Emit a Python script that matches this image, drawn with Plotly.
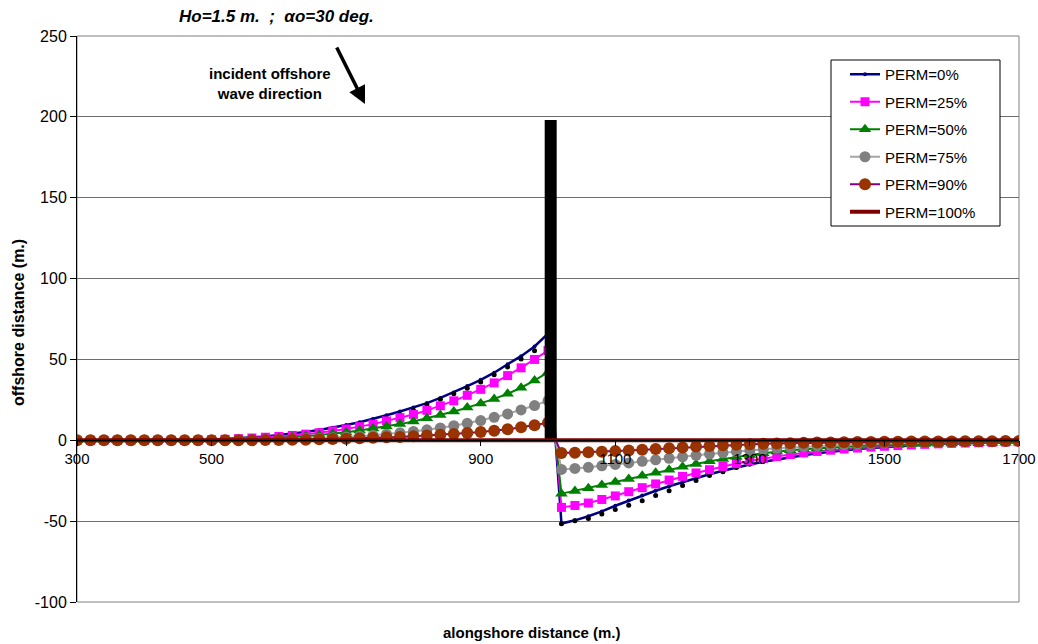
import plotly.graph_objects as go

# alongshore positions (m), every 20 m
x_pos = list(range(300, 1701, 20))

# offshore shoreline displacement (m) for each permeability
perm0_line = [0, 0, 0, 0, 0, 0, 0, 0, 0.1, 0.2, 0.4, 0.8, 1.2, 1.7, 2.4, 3.2, 4.1, 5.2, 6.4, 7.8,
              9.4, 11.2, 13.2, 15.5, 17.8, 20.3, 23.0, 26.2, 29.6, 33.5, 37.4, 41.8, 47.0, 52.0, 58.0, 66.0,
              -51.5, -49.5, -47.0, -44.0, -40.5, -37.3, -34.2, -31.2, -28.4, -25.8, -23.3, -21.0, -18.8, -16.8,
              -15.0, -13.3, -11.8, -10.4, -9.2, -8.1, -7.1, -6.2, -5.4, -4.7, -4.1, -3.6, -3.1, -2.7, -2.3,
              -2.0, -1.7, -1.5, -1.3, -1.1, -1.0]
perm0_dots = [0, 0, 0, 0, 0, 0, 0, 0, 0, 0.1, 0.3, 0.6, 1.0, 1.4, 2.0, 2.6, 3.4, 4.3, 5.4, 6.6,
              8.0, 9.6, 11.4, 13.4, 15.6, 18.6, 22.0, 25.3, 28.7, 32.2, 36.0, 40.5, 45.3, 50.3, 55.3, 61.0,
              -51.6, -49.8, -48.3, -45.6, -42.8, -40.2, -37.4, -34.2, -31.2, -28.0, -24.8, -21.8, -19.4, -16.8,
              -14.6, -12.8, -11.2, -9.8, -8.7, -7.7, -6.8, -5.9, -5.2, -4.6, -4.0, -3.5, -3.0, -2.6, -2.2,
              -1.9, -1.6, -1.4, -1.2, -1.0, -0.9]
perm25 = [0, 0, 0, 0, 0, 0, 0, 0, 0, 0.1, 0.3, 0.6, 1.0, 1.4, 1.9, 2.4, 3.0, 3.8, 4.7, 5.8,
          7.0, 8.4, 10.0, 12.0, 14.0, 16.0, 18.5, 21.3, 24.4, 27.8, 31.5, 35.5, 40.0, 44.8, 50.0, 55.5,
          -41.5, -40.3, -38.8, -36.6, -34.4, -31.8, -29.3, -27.0, -24.6, -22.3, -20.2, -18.2, -16.2, -14.4,
          -12.8, -11.3, -10.0, -8.8, -7.8, -6.9, -6.1, -5.4, -4.8, -4.2, -3.7, -3.3, -2.9, -2.5, -2.2,
          -1.9, -1.7, -1.5, -1.3, -1.1, -1.0]
perm50 = [0, 0, 0, 0, 0, 0, 0, 0, 0, 0, 0, 0.1, 0.3, 0.6, 1.0, 1.4, 1.9, 2.5, 3.2, 4.0,
          5.0, 6.1, 7.3, 8.6, 10.0, 11.6, 13.6, 15.6, 17.8, 20.2, 22.8, 25.6, 28.8, 32.5, 37.0, 42.0,
          -33.0, -31.3, -29.6, -27.7, -25.8, -23.9, -22.0, -20.0, -18.2, -16.3, -14.6, -13.0, -11.6, -10.3,
          -9.1, -8.0, -7.0, -6.2, -5.5, -4.9, -4.4, -3.9, -3.5, -3.2, -2.9, -2.7, -2.5, -2.3, -2.1,
          -2.0, -1.9, -1.8, -1.7, -1.6, -1.5]
perm75 = [0, 0, 0, 0, 0, 0, 0, 0, 0, 0, 0, 0, 0, 0.1, 0.2, 0.4, 0.6, 0.9, 1.2, 1.6,
          2.0, 2.5, 3.1, 3.8, 4.6, 5.5, 6.5, 7.6, 9.0, 10.5, 12.2, 14.2, 16.3, 18.8, 21.5, 24.5,
          -18.0, -17.4, -16.7, -15.8, -14.9, -14.0, -13.0, -12.1, -11.1, -10.2, -9.3, -8.5, -7.7, -7.0,
          -6.3, -5.6, -5.0, -4.5, -4.0, -3.5, -3.1, -2.7, -2.4, -2.1, -1.8, -1.6, -1.4, -1.2, -1.0,
          -0.9, -0.8, -0.7, -0.6, -0.5, -0.5]
perm90 = [0, 0, 0, 0, 0, 0, 0, 0, 0, 0, 0, 0, 0, 0, 0.1, 0.2, 0.3, 0.4, 0.6, 0.8,
          1.0, 1.2, 1.5, 1.8, 2.1, 2.5, 2.9, 3.4, 3.9, 4.5, 5.1, 5.9, 6.8, 8.0, 9.3, 10.8,
          -7.9, -7.7, -7.4, -7.1, -6.7, -6.3, -5.9, -5.4, -4.9, -4.4, -3.9, -3.5, -3.1, -2.8,
          -2.5, -2.2, -2.0, -1.8, -1.6, -1.4, -1.3, -1.2, -1.1, -1.0, -0.9, -0.9, -0.8, -0.8, -0.7,
          -0.7, -0.6, -0.6, -0.6, -0.5, -0.5]
perm100 = [0, 0, 0, 0, 0, 0, 0, 0, 0, 0, 0, 0, 0, 0, 0, 0, 0, 0, 0, 0,
           0, 0, 0, 0, 0, 0, 0, 0, 0, 0, 0, 0, 0, 0, 0, 0,
           0, 0, 0, 0, 0, 0, 0, 0, 0, 0, 0, 0, 0, 0, 0, 0, 0, 0, 0,
           0, 0, 0, 0, 0, 0, 0, 0, 0, 0, 0, 0, 0, 0, 0, 0]

# groyne
groyne_x = [1004, 1004]
groyne_y = [0, 198]

# axis ticks
y_ticks = [-100, -50, 0, 50, 100, 150, 200, 250]
y_tick_text = ["-100", "-50", "0", "50", "100", "150", "200", "250"]
x_ticks = [300, 500, 700, 900, 1100, 1300, 1500, 1700]

FONT = "Liberation Sans, Arial, sans-serif"

fig = go.Figure()

fig.add_trace(go.Scatter(x=x_pos, y=perm0_line, mode="lines+markers", name="PERM=0%",
                         line=dict(color="#000080", width=2.5),
                         marker=dict(color="#000080", size=4), legendgroup="a"))
fig.add_trace(go.Scatter(x=x_pos, y=perm0_dots, mode="markers", showlegend=False,
                         marker=dict(color="#000000", size=5), legendgroup="a"))
fig.add_trace(go.Scatter(x=x_pos, y=perm25, mode="lines+markers", name="PERM=25%",
                         line=dict(color="#FF00FF", width=2),
                         marker=dict(color="#FF00FF", size=9, symbol="square"), legendgroup="b"))
fig.add_trace(go.Scatter(x=x_pos, y=perm50, mode="lines+markers", name="PERM=50%",
                         line=dict(color="#008000", width=2),
                         marker=dict(color="#008000", size=11, symbol="triangle-up"), legendgroup="c"))
fig.add_trace(go.Scatter(x=x_pos, y=perm75, mode="lines+markers", name="PERM=75%",
                         line=dict(color="#A6A6A6", width=2),
                         marker=dict(color="#808080", size=11, symbol="circle"), legendgroup="d"))
fig.add_trace(go.Scatter(x=x_pos, y=perm90, mode="lines+markers", name="PERM=90%",
                         line=dict(color="#800080", width=2),
                         marker=dict(color="#993300", size=12, symbol="circle"), legendgroup="e"))
fig.add_trace(go.Scatter(x=groyne_x, y=groyne_y, mode="lines", showlegend=False,
                         line=dict(color="#000000", width=12), hoverinfo="skip"))
fig.add_trace(go.Scatter(x=x_pos, y=perm100, mode="lines", name="PERM=100%",
                         line=dict(color="#800000", width=4), legendgroup="f"))

L, R, T, B = 77, 19, 36, 42
W, H = 1038, 644
plot_w = W - L - R
plot_h = H - T - B
y0_frac = (0 - (-100)) / 350.0


def px_x(p):
    return (p - L) / plot_w


def px_y(p):
    return (H - B - p) / plot_h


fig.update_layout(
    width=W, height=H,
    margin=dict(l=L, r=R, t=T, b=B, autoexpand=False),
    paper_bgcolor="white", plot_bgcolor="white",
    font=dict(family=FONT, size=15, color="black"),
    showlegend=True,
    legend=dict(x=px_x(845), y=px_y(58), xanchor="left", yanchor="top",
                bgcolor="rgba(0,0,0,0)", borderwidth=0,
                font=dict(family=FONT, size=15, color="black"),
                tracegroupgap=5, traceorder="grouped"),
    xaxis=dict(range=[300, 1700], tickvals=x_ticks, showgrid=False, zeroline=False,
               showline=True, linecolor="black", linewidth=1,
               ticks="outside", ticklen=5, tickcolor="black", automargin=False,
               anchor="free", position=y0_frac,
               tickfont=dict(family=FONT, size=15, color="black")),
    yaxis=dict(range=[-100, 250], tickvals=y_ticks, ticktext=y_tick_text,
               showgrid=True, gridcolor="#6e6e6e", gridwidth=1,
               zeroline=False, showline=True, linecolor="black", linewidth=1,
               ticks="outside", ticklen=6, tickcolor="black", automargin=False,
               tickfont=dict(family=FONT, size=16, color="black")),
)

# plot-area border
fig.add_shape(type="rect", xref="paper", yref="paper", x0=0, x1=1, y0=0, y1=1,
              line=dict(color="#808080", width=1), layer="below")
# legend box
fig.add_shape(type="rect", xref="paper", yref="paper", x0=px_x(831), x1=px_x(1000),
              y0=px_y(226), y1=px_y(60), line=dict(color="black", width=1),
              fillcolor="white", layer="above")

# title
fig.add_annotation(text="<b><i>Ho=1.5 m.\u00a0\u00a0;\u00a0\u00a0\u03b1o=30 deg.</i></b>",
                   xref="paper", yref="paper", x=px_x(276), y=px_y(17),
                   showarrow=False, font=dict(family=FONT, size=17, color="black"),
                   xanchor="center", yanchor="middle")
# axis titles
fig.add_annotation(text="<b>offshore distance (m.)</b>", xref="paper", yref="paper",
                   x=px_x(18), y=px_y(323), textangle=-90, showarrow=False,
                   font=dict(family=FONT, size=16, color="black"), xanchor="center", yanchor="middle")
fig.add_annotation(text="<b>alongshore distance (m.)</b>", xref="paper", yref="paper",
                   x=px_x(532), y=px_y(632), showarrow=False,
                   font=dict(family=FONT, size=15, color="black"), xanchor="center", yanchor="middle")
# wave direction
fig.add_annotation(text="<b>incident offshore<br>wave direction</b>", xref="paper", yref="paper",
                   x=px_x(270), y=px_y(83), showarrow=False,
                   font=dict(family=FONT, size=15, color="black"), xanchor="center", yanchor="middle")
fig.add_annotation(text="", x=728, y=208, xref="x", yref="y", ax=-29, ay=-58,
                   showarrow=True, arrowhead=2, arrowsize=1, arrowwidth=3.5, arrowcolor="black")

fig.write_html("out.html")
